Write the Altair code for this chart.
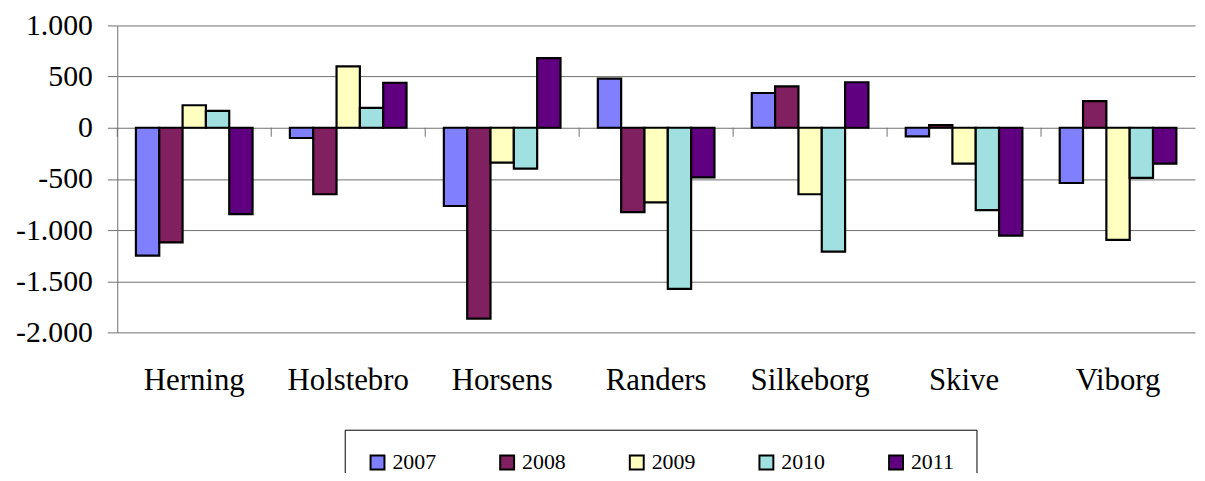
import altair as alt
import pandas as pd

cities = ["Herning", "Holstebro", "Horsens", "Randers", "Silkeborg", "Skive", "Viborg"]
years = ["2007", "2008", "2009", "2010", "2011"]
v2007 = [-1250, -100, -765, 480, 340, -85, -540]
v2008 = [-1120, -650, -1865, -825, 405, 25, 260]
v2009 = [220, 600, -340, -730, -650, -350, -1095]
v2010 = [165, 195, -400, -1575, -1210, -805, -490]
v2011 = [-845, 440, 680, -485, 445, -1055, -350]
colors = ["#8080FF", "#802060", "#FFFFC0", "#A0E0E0", "#600080"]

series = [v2007, v2008, v2009, v2010, v2011]
rows = []
for y, vals in zip(years, series):
    for c, v in zip(cities, vals):
        rows.append({"city": c, "year": y, "value": v})
df = pd.DataFrame(rows)
df_cities = pd.DataFrame({"city": cities})

FONT = "Liberation Serif"
GRID = "#707070"

x_scale = alt.Scale(domain=cities, paddingInner=0, paddingOuter=0)

bars = alt.Chart(df).mark_bar(stroke="black", strokeWidth=2.2).encode(
    x=alt.X("city:N", scale=x_scale, sort=cities,
            axis=alt.Axis(title=None, domain=False, ticks=False, grid=False,
                          labelFont=FONT, labelFontSize=31, labelColor="black",
                          labelPadding=34, labelAngle=0)),
    xOffset=alt.XOffset("year:N", sort=years,
                        scale=alt.Scale(paddingInner=0, paddingOuter=0.8)),
    y=alt.Y("value:Q",
            scale=alt.Scale(domain=[-2000, 1000], nice=False, zero=False),
            axis=alt.Axis(title=None, values=[-2000, -1500, -1000, -500, 0, 500, 1000],
                          labelExpr="(datum.value < 0 ? '-' : '') + replace(format(abs(datum.value), ','), ',', '.')",
                          labelFont=FONT, labelFontSize=30, labelColor="black",
                          labelPadding=15, tickSize=10, tickColor=GRID,
                          domainColor=GRID, gridColor=GRID, grid=True,
                          gridOpacity=1, domainWidth=1)),
    color=alt.Color("year:N", sort=years,
                    scale=alt.Scale(domain=years, range=colors),
                    legend=alt.Legend(title=None, orient="none", legendX=229, legendY=407,
                                      direction="horizontal", columns=5, columnPadding=60.5,
                                      padding=22, strokeColor="black", fillColor="white",
                                      symbolType="square", symbolSize=196,
                                      symbolStrokeColor="black", symbolStrokeWidth=2,
                                      symbolOpacity=1,
                                      labelFont=FONT, labelFontSize=22, labelColor="black",
                                      labelOffset=4)),
)

ticks = alt.Chart(df_cities).mark_tick(orient="vertical", size=9, yOffset=4.5,
                                       thickness=1, color=GRID, opacity=1).encode(
    x=alt.X("city:N", sort=cities, bandPosition=0),
    y=alt.YDatum(0),
)

chart = alt.layer(bars, ticks).properties(
    width=1085, height=309,
    autosize=alt.AutoSizeParams(type="none"),
    padding={"left": 110, "top": 16, "right": 2, "bottom": 140},
    background="white",
).configure(font=FONT).configure_axis(
    labelFont=FONT
).configure_legend(
    labelFont=FONT
).configure_view(stroke=None)

chart.save("out.html", embed_options={"renderer": "svg", "actions": False})
